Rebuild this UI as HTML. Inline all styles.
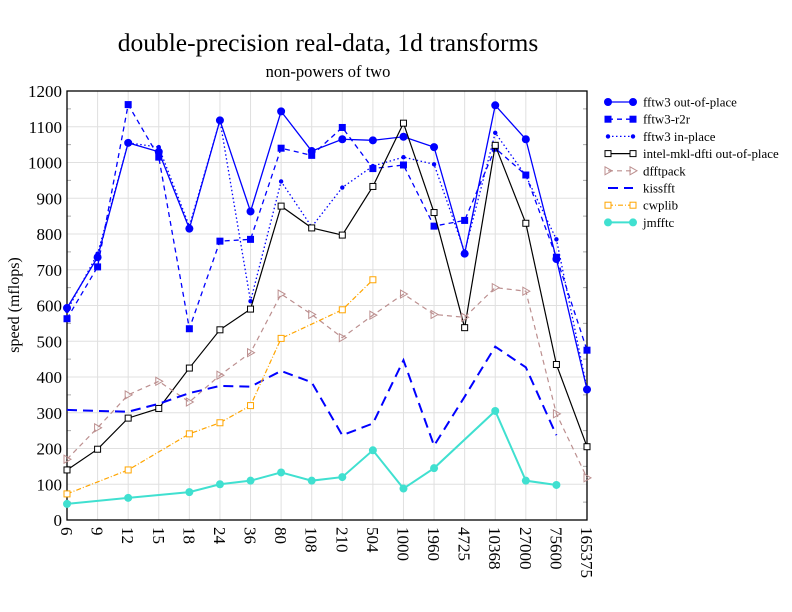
<!DOCTYPE html>
<html><head><meta charset="utf-8"><style>body{margin:0;background:#fff}svg{display:block;font-family:"Liberation Serif",serif}</style></head>
<body><svg id="s" width="792" height="612" xmlns="http://www.w3.org/2000/svg"></svg>
<script>
const L=67,R=587,T=91,B=520;
const cats=["6","9","12","15","18","24","36","80","108","210","504","1000","1960","4725","10368","27000","75600","165375"];
const X=i=>L+i*(R-L)/17, Y=v=>B-v*(B-T)/1200;
let h='';
for(let v=0;v<=1200;v+=100) h+=`<line x1="${L}" x2="${R}" y1="${Y(v)}" y2="${Y(v)}" stroke="#e0e0e0"/>`;
for(let i=0;i<18;i++) h+=`<line x1="${X(i)}" x2="${X(i)}" y1="${T}" y2="${B}" stroke="#e0e0e0"/>`;
for(let v=50;v<1200;v+=100) h+=`<line x1="${L}" x2="${L+4}" y1="${Y(v)}" y2="${Y(v)}" stroke="#aaa"/><line x1="${R-4}" x2="${R}" y1="${Y(v)}" y2="${Y(v)}" stroke="#aaa"/>`;
h+=`<rect x="${L}" y="${T}" width="${R-L}" height="${B-T}" fill="none" stroke="#000" stroke-width="1.3"/>`;
for(let v=0;v<=1200;v+=100) h+=`<text x="${L-5}" y="${Y(v)+6}" font-size="17" text-anchor="end">${v}</text>`;
cats.forEach((c,i)=>h+=`<text transform="translate(${X(i)-6},${B+7}) rotate(90)" font-size="17">${c}</text>`);
h+=`<text x="328" y="51" font-size="25.5" text-anchor="middle">double-precision real-data, 1d transforms</text>`;
h+=`<text x="328" y="77" font-size="16.5" text-anchor="middle">non-powers of two</text>`;
h+=`<text transform="translate(19,305) rotate(-90)" font-size="16" text-anchor="middle">speed (mflops)</text>`;
function mk(t,x,y,c){
 if(t=='dot')return `<circle cx="${x}" cy="${y}" r="4" fill="${c}"/>`;
 if(t=='sdot')return `<circle cx="${x}" cy="${y}" r="2.2" fill="${c}"/>`;
 if(t=='sq')return `<rect x="${x-3.5}" y="${y-3.5}" width="7" height="7" fill="${c}"/>`;
 if(t=='osq')return `<rect x="${x-3}" y="${y-3}" width="6" height="6" fill="#fff" stroke="${c}"/>`;
 if(t=='tri')return `<path d="M${x-3},${y-4}L${x+4},${y}L${x-3},${y+4}Z" fill="none" stroke="${c}"/>`;
 return '';
}
const S=[
["fftw3 out-of-place","#0000ff","none",1.3,"dot",[593,735,1055,1030,815,1118,863,1143,1032,1065,1062,1072,1043,745,1160,1065,730,365]],
["fftw3-r2r","#0000ff","5,4",1.3,"sq",[563,708,1162,1015,535,780,785,1040,1020,1098,983,993,822,838,1040,965,735,475]],
["fftw3 in-place","#0000ff","1.5,2.5",1.3,"sdot",[585,745,1055,1043,822,1118,612,947,820,930,990,1015,995,750,1083,963,785,368]],
["intel-mkl-dfti out-of-place","#000","none",1.2,"osq",[140,198,285,312,425,532,590,878,817,797,933,1110,860,538,1048,830,435,205]],
["dfftpack","#bc8f8f","5,4",1.2,"tri",[170,258,350,388,330,405,468,632,575,510,573,632,575,567,650,640,297,118]],
["kissfft","#0000ff","10,6",2,"",[308,305,303,325,355,375,373,417,385,237,270,447,208,345,485,427,237,null]],
["cwplib","#ffa500","5,2,1,2",1.2,"osq",[73,null,140,null,241,272,320,508,null,588,672,null,null,null,null,null,null,null]],
["jmfftc","#40e0d0","none",2,"dot",[45,null,62,null,78,100,110,133,110,120,195,88,145,null,305,110,98,null]]
];
S.forEach((s,k)=>{
 const [n,c,d,w,m,v]=s;let p=[];
 v.forEach((y,i)=>{if(y!=null)p.push([X(i),Y(y)])});
 h+=`<polyline points="${p.map(q=>q.join(',')).join(' ')}" fill="none" stroke="${c}" stroke-width="${w}" stroke-dasharray="${d}"/>`;
 p.forEach(q=>h+=mk(m,q[0],q[1],c));
 const ly=102+k*17.2;
 h+=`<line x1="608" x2="633" y1="${ly}" y2="${ly}" stroke="${c}" stroke-width="${w}" stroke-dasharray="${d}"/>`+mk(m,608,ly,c)+mk(m,633,ly,c);
 h+=`<text x="643" y="${ly+4.5}" font-size="12.9">${n}</text>`;
});
document.getElementById('s').innerHTML=h;
</script></body></html>
